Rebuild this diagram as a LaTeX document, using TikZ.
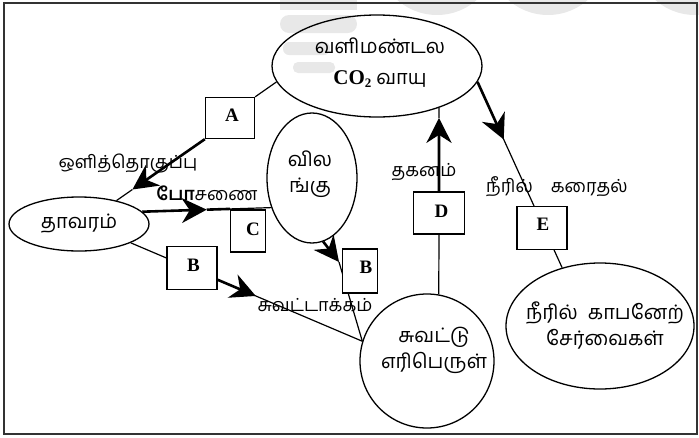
\documentclass[tikz,border=0pt]{standalone}
\usepackage{fontspec}
\newfontfamily\tamil[Script=Tamil]{Hind Madurai}
\newfontfamily\lat{Liberation Serif}
\usetikzlibrary{shapes.geometric,arrows.meta,calc}
\pgfdeclarelayer{bg}
\pgfdeclarelayer{wm}
\pgfsetlayers{wm,bg,main}
\begin{document}
\begin{tikzpicture}[x=1pt,y=-1pt,
 ell/.style={draw, line width=1.3pt, ellipse, inner sep=0pt},
 txt/.style={font=\tamil\fontsize{20}{26}\selectfont, align=center, inner sep=0pt},
 lbox/.style={draw, line width=1.3pt, fill=white, inner sep=0pt, font=\lat\bfseries\fontsize{19}{20}\selectfont},
 thinln/.style={line width=1.2pt},
 thickln/.style={line width=2.6pt, -{Stealth[length=25pt,width=25pt,inset=8pt]}},
 lab/.style={font=\tamil\fontsize{18}{20}\selectfont, inner sep=0pt},
 wmark/.style={fill=black!9, draw=none}]
\useasboundingbox (0,0) rectangle (699,437);
% faint watermark
\begin{pgfonlayer}{wm}
\begin{scope}
\clip (0,0) rectangle (699,437);
\fill[wmark] (280,0) rectangle (357,10);
\fill[wmark, rounded corners=9pt] (280,15) rectangle (357,33);
\fill[wmark, rounded corners=6pt] (283,42) rectangle (330,55);
\fill[wmark, rounded corners=5pt] (293,62) rectangle (335,73);
\fill[wmark] (437,-45) circle[radius=60];
\fill[wmark] (548,-45) circle[radius=60];
\fill[wmark] (695,-45) circle[radius=60];
\end{scope}
\end{pgfonlayer}
\draw[line width=1.5pt, black!80] (4,3) rectangle (697,434);
% ellipses
\node[ell, minimum width=210, minimum height=102] (atm) at (377,66) {};
\node[txt] (atmT) at (380,63) {வளிமண்டல\\[5pt]{\lat\bfseries\fontsize{21}{22}\selectfont CO\raisebox{-0.3ex}{\fontsize{13}{13}\selectfont 2}} வாயு};
\node[ell, minimum width=140, minimum height=54] (pl) at (79,224) {};
\node[txt] (plT) at (79,224) {தாவரம்};
\node[ell, minimum width=90, minimum height=130] (an) at (312,178) {};
\node[txt] (anT) at (310,174) {வில\\ங்கு};
\node[ell, minimum width=134, minimum height=134] (fo) at (427,361) {};
\node[txt] (foT) at (434,350) {சுவட்டு\\எரிபெருள்};
\node[ell, minimum width=188, minimum height=126] (cb) at (600,326) {};
\node[txt] (cbT) at (605,326) {நீரில்\enspace காபனேற்\\சேர்வைகள்};
% boxes
\node[lbox, minimum width=49, minimum height=41] (A) at (230,118) {\hspace*{4pt}A\rule[-6pt]{0pt}{0pt}};
\node[lbox, minimum width=35, minimum height=42] (C) at (248,231) {\hspace*{10pt}C\rule[-4pt]{0pt}{0pt}};
\node[lbox, minimum width=50, minimum height=43] (B1) at (192,268) {\hspace*{3pt}B\rule[-6pt]{0pt}{0pt}};
\node[lbox, minimum width=35, minimum height=44] (B2) at (360,271) {\hspace*{12pt}B\rule[-8pt]{0pt}{0pt}};
\node[lbox, minimum width=51, minimum height=42] (D) at (439,213) {\hspace*{5pt}D\rule[-4pt]{0pt}{0pt}};
\node[lbox, minimum width=50, minimum height=43] (E) at (542,228) {\hspace*{2pt}E\rule[-8pt]{0pt}{0pt}};
% labels
\node[lab] (l1) at (128,163) {ஒளித்தொகுப்பு};
\node[lab] (l2) at (207,193) {{\bfseries போ}சணை};
\node[lab] (l3) at (315,305) {சுவட்டாக்கம்};
\node[lab] (l4) at (424,172) {தகனம்};
\node[lab] (l5) at (557,187) {நீரில்\quad கரைதல்};
\begin{pgfonlayer}{bg}
% A
\draw[thinln] (atm.189) -- (A.north east);
\coordinate (tA) at ($(A.south west)!0.82!(pl.32)$);
\draw[thickln] (A.south west) -- (tA);
\draw[thinln] (tA) -- (pl.32);
% C
\coordinate (tC) at ($(pl.11)!0.5!(an.216)$);
\coordinate (cC) at ($(pl.11)!0.68!(an.216)$);
\draw[thickln] (pl.11) -- (tC);
\draw[line width=2.6pt] (tC) -- (cC);
\draw[thinln] (cC) -- (an.216);
% B1
\draw[thinln] (pl.340) -- (fo.163);
\coordinate (sB1) at ($(pl.340)!0.375!(fo.163)$);
\coordinate (tB1) at ($(pl.340)!0.54!(fo.163)$);
\draw[thickln] (sB1) -- (tB1);
% B2
\coordinate (tB2) at (339,262);
\draw[thickln] (an.280) -- (tB2);
\draw[thinln] (tB2) -- (fo.163);
% D
\draw[thinln] (fo.80) -- (D.south);
\coordinate (tD) at ($(D.north)!0.88!(atm.326)$);
\draw[thickln] (D.north) -- (tD);
\draw[thinln] (tD) -- (atm.326);
% E
\draw[thinln] (atm.351) -- (cb.123);
\coordinate (tE) at ($(atm.351)!0.31!(cb.123)$);
\draw[thickln] (atm.351) -- (tE);
\end{pgfonlayer}
\end{tikzpicture}
\end{document}
